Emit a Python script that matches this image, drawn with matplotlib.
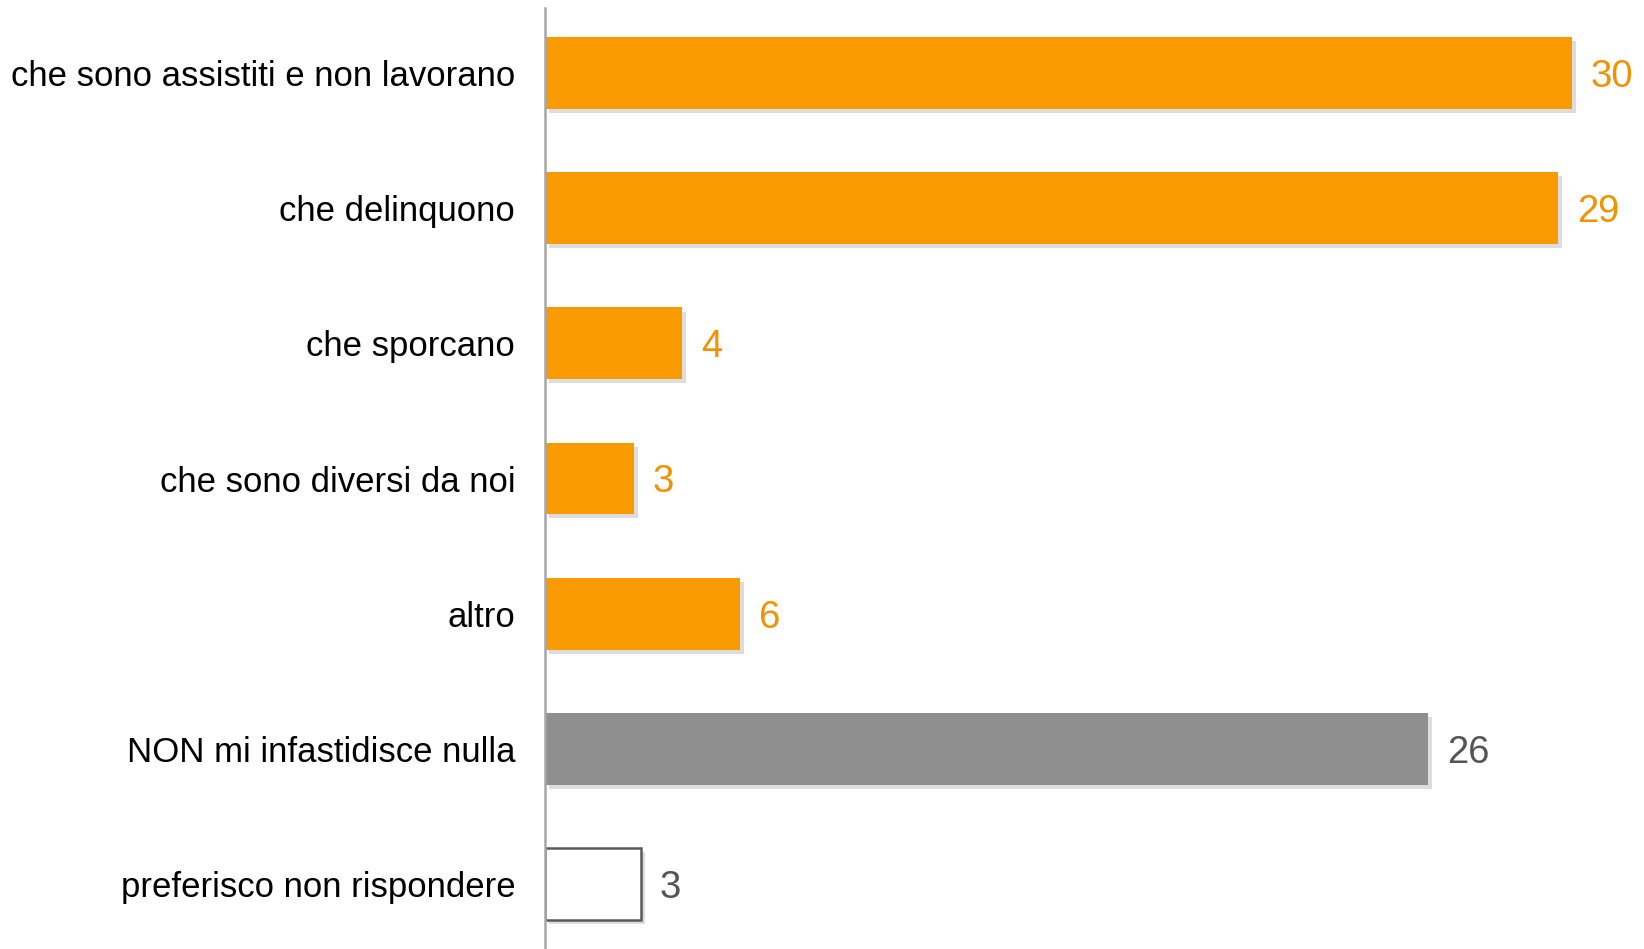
import matplotlib
matplotlib.use("Agg")
import matplotlib.pyplot as plt
import matplotlib.patheffects as pe

plt.rcParams['font.family'] = ['Liberation Sans', 'DejaVu Sans']

# data
categories = ['che sono assistiti e non lavorano', 'che delinquono', 'che sporcano',
              'che sono diversi da noi', 'altro', 'NON mi infastidisce nulla',
              'preferisco non rispondere']
values = [30.0, 29.6, 4.0, 2.6, 5.7, 25.8, 2.8]
value_labels = ['30', '29', '4', '3', '6', '26', '3']
bar_colors = ['#F99B00'] * 5 + ['#8F8F8F', '#FFFFFF']
edge_colors = ['none'] * 6 + ['#5A5A5A']
label_colors = ['#F39200'] * 5 + ['#555555', '#555555']

fig = plt.figure(figsize=(16.44, 9.49), dpi=100)
ax = fig.add_axes([545 / 1644, 0, 1 - 545 / 1644, 1 - 8 / 949])

y = list(range(len(categories)))
shadow = [pe.SimplePatchShadow(offset=(3, -3), shadow_rgbFace='#AAAAAA', alpha=0.4), pe.Normal()]
bars = ax.barh(y, values, height=0.53, color=bar_colors, edgecolor=edge_colors, linewidth=1.8)
for b in bars:
    b.set_path_effects(shadow)

for yi, v, lab, c in zip(y, values, value_labels, label_colors):
    ax.text(v + 0.55, yi, lab, va='center_baseline', ha='left', fontsize=27.5, color=c)

ax.set_xlim(0, (1644 - 545) / 34.23)
ax.set_ylim(6.48, -0.48)
ax.set_yticks(y)
ax.set_yticklabels(categories, fontsize=25, color='#000000', va='center_baseline')
ax.tick_params(axis='y', length=0, pad=21.5)
ax.set_xticks([])
for s in ['top', 'right', 'bottom']:
    ax.spines[s].set_visible(False)
ax.spines['left'].set_color('#A6A6A6')
ax.spines['left'].set_linewidth(1.8)

fig.savefig('out.png', dpi=100)
